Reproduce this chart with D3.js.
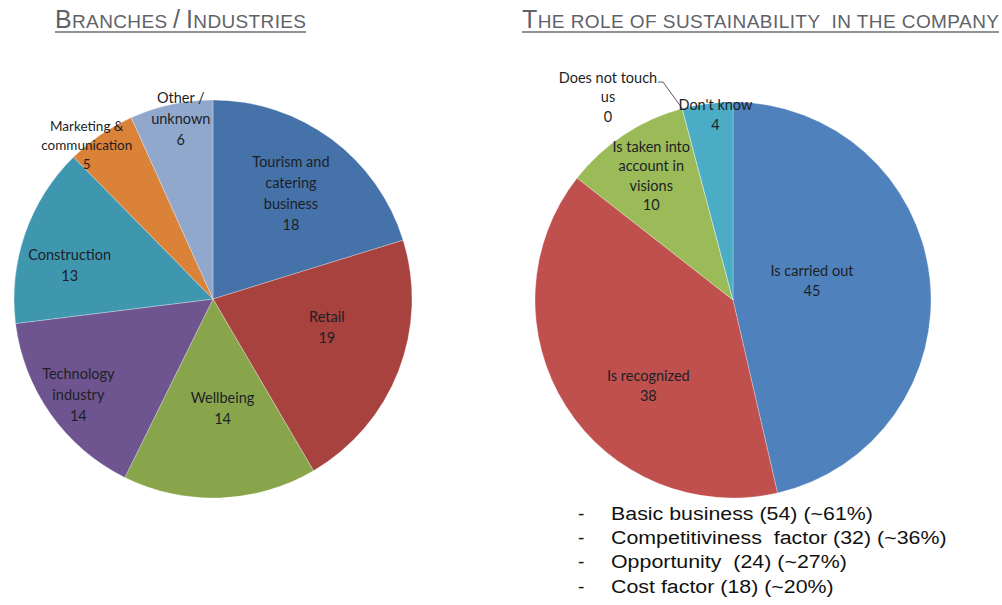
<!DOCTYPE html>
<html>
<head>
<meta charset="utf-8">
<script src="https://cdn.jsdelivr.net/npm/d3@7"></script>
<style>
  body { margin: 0; background: #fff; }
  svg { display: block; }
</style>
</head>
<body>
<div id="chart"></div>
<script>
// left pie: branches
const branchNames = [['Tourism and', 'catering', 'business'], ['Retail'], ['Wellbeing'], ['Technology', 'industry'], ['Construction'], ['Marketing &', 'communication'], ['Other /', 'unknown']]
const branchValues = [18, 19, 14, 14, 13, 5, 6]
const branchColors = ['#4572a8', '#a8423f', '#88a54c', '#6f558f', '#3e97ae', '#db8239', '#91a8cd']

// right pie: role of sustainability
const roleNames = [['Is carried out'], ['Is recognized'], ['Is taken into', 'account in', 'visions'], ['Does not touch', 'us'], ["Don't know"]]
const roleValues = [45, 38, 10, 0, 4]
const roleColors = ['#4f81bd', '#c0504d', '#9bbb59', '#8064a2', '#4bacc6']

const bullets = ['Basic business (54) (~61%)', 'Competitiviness  factor (32) (~36%)', 'Opportunity  (24) (~27%)', 'Cost factor (18) (~20%)']

const width = 1002, height = 605
const svg = d3.select('#chart').append('svg')
  .attr('width', width)
  .attr('height', height)

// titles in small caps: upper-case letters in the source string are drawn big
function title(str, x, y, len) {
  const t = svg.append('text')
    .attr('x', x).attr('y', y)
    .attr('fill', '#5f6268')
    .style('font-family', 'Liberation Sans, Arial, sans-serif')
    .style('white-space', 'pre')
    .attr('textLength', len)
    .attr('lengthAdjust', 'spacing')
  const parts = str.match(/[A-Z\/]+|[^A-Z\/]+/g)
  parts.forEach(p => {
    const big = /[A-Z\/]/.test(p[0])
    t.append('tspan').text(p.toUpperCase()).style('font-size', big ? '25px' : '19px')
  })
  svg.append('line')
    .attr('x1', x).attr('x2', x + len)
    .attr('y1', y + 4).attr('y2', y + 4)
    .attr('stroke', '#6a6d72').attr('stroke-width', 1.6)
}
title('Branches / Industries', 55, 28, 251)
title('The role of sustainability  in the company', 522, 28, 477)

const deg = Math.PI / 180

function drawPie(cx, cy, r, names, values, colors, labelPos, fontSize, lineH) {
  const pie = d3.pie().sort(null).value(d => d)
  const arcs = pie(values)
  const arc = d3.arc().innerRadius(0).outerRadius(r)
  const g = svg.append('g').attr('transform', `translate(${cx},${cy})`)
  g.selectAll('path')
    .data(arcs)
    .enter().append('path')
    .attr('d', arc)
    .attr('fill', (d, i) => colors[i])
    .attr('stroke', 'rgba(255,255,255,0.35)')
    .attr('stroke-width', 0.8)

  arcs.forEach((d, i) => {
    const lp = labelPos[i]
    const a = (d.startAngle + d.endAngle) / 2 + (lp.da || 0) * deg
    const x = lp.x !== undefined ? lp.x : Math.sin(a) * r * lp.f
    const y = lp.y !== undefined ? lp.y : -Math.cos(a) * r * lp.f
    const lines = names[i].concat([String(values[i])])
    const fs = lp.fs || fontSize
    const lh = lp.lh || lineH
    const t = g.append('text')
      .attr('text-anchor', 'middle')
      .attr('fill', '#1d1f26')
      .style('font-family', 'Lato, "Noto Sans", sans-serif')
      .style('font-size', fs + 'px')
    lines.forEach((ln, j) => {
      t.append('tspan')
        .attr('x', x)
        .attr('y', y + (j - (lines.length - 1) / 2) * lh + fs * 0.35)
        .text(ln)
    })
    if (lp.leader) {
      const ex = Math.sin(d.startAngle) * r, ey = -Math.cos(d.startAngle) * r
      g.append('path')
        .attr('d', d3.line()([[lp.leader[0], lp.leader[1]], [lp.leader[0] + 5, lp.leader[1]], [ex, ey]]))
        .attr('fill', 'none')
        .attr('stroke', '#333')
        .attr('stroke-width', 0.8)
    }
  })
}

drawPie(213, 299, 199, branchNames, branchValues, branchColors, [
  {f: 0.66},
  {f: 0.59, da: -7},
  {f: 0.55, da: -3},
  {f: 0.83},
  {f: 0.74, da: -6},
  {f: 1.0, da: -5, fs: 13.5, lh: 19},
  {f: 0.92, da: 2}
], 14.5, 21)

drawPie(733, 300, 198, roleNames, roleValues, roleColors, [
  {f: 0.41, da: -7},
  {f: 0.61, da: -13},
  {f: 0.75},
  {x: -125, y: -203, leader: [-75, -218]},
  {f: 0.94, da: 2}
], 14.5, 19.5)

// bullet list
const bl = svg.append('g')
  .style('font-family', 'Liberation Sans, Arial, sans-serif')
  .style('font-size', '19px')
  .attr('fill', '#111')
bl.selectAll('.dash')
  .data(bullets)
  .enter().append('text')
  .attr('x', 578)
  .attr('y', (d, i) => 520 + i * 24.2)
  .text('-')
bl.append('g')
  .attr('transform', 'translate(611,0) scale(1.125,1)')
  .selectAll('.item')
  .data(bullets)
  .enter().append('text')
  .attr('x', 0)
  .attr('y', (d, i) => 520 + i * 24.2)
  .style('white-space', 'pre')
  .text(d => d)
</script>
</body>
</html>
